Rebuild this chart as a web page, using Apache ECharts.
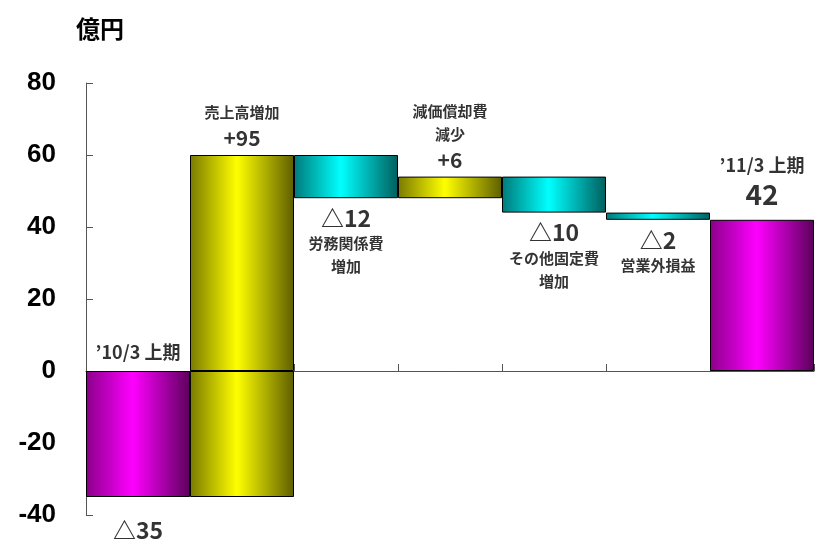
<!DOCTYPE html>
<html><head><meta charset="utf-8">
<script src="https://cdn.jsdelivr.net/npm/echarts@6/dist/echarts.min.js"></script>
<style>html,body{margin:0;padding:0;background:#fff}#c{width:821px;height:541px}</style>
</head><body><div id="c"></div>
<script>
// ---- data ----
const categories = ['’10/3 上期', '売上高増加', '労務関係費増加', '減価償却費減少', 'その他固定費増加', '営業外損益', '’11/3 上期'];
const startValues = [0, -35, 60, 48, 54, 44, 0];
const endValues = [-35, 60, 48, 54, 44, 42, 42];
const colorKinds = ['m', 'y', 'c', 'y', 'c', 'c', 'm'];
const topNames = ['’10/3 上期', '売上高増加', '', '減価償却費\n減少', '', '', '’11/3 上期'];
const topValues = ['', '+95', '', '+6', '', '', '42'];
const bottomValues = ['△35', '', '△12', '', '△10', '△2', ''];
const bottomNames = ['', '', '労務関係費\n増加', '', 'その他固定費\n増加', '営業外損益', ''];
const yTicks = [-40, -20, 0, 20, 40, 60, 80];
const unitLabel = '億円';

// ---- build ----
const CJK = "'Noto Sans CJK JP', sans-serif";
const grads = {
  m: ['#8a008a', '#ff00ff', '#5c005c'],
  y: ['#7a7a00', '#ffff00', '#5e5e00'],
  c: ['#007a7a', '#00ffff', '#005e5e']
};
function fill(k) {
  const g = grads[k];
  return new echarts.graphic.LinearGradient(0, 0, 1, 0, [
    {offset: 0, color: g[0]}, {offset: 0.45, color: g[1]}, {offset: 1, color: g[2]}
  ]);
}
const basePos = [], posPart = [], negPart = [];
categories.forEach((c, i) => {
  const lo = Math.min(startValues[i], endValues[i]);
  const hi = Math.max(startValues[i], endValues[i]);
  const st = {color: fill(colorKinds[i]), borderColor: '#000', borderWidth: 1};
  if (lo >= 0) {
    basePos.push(lo);
    posPart.push({value: hi - lo, itemStyle: st});
    negPart.push('-');
  } else {
    basePos.push(0);
    posPart.push(hi > 0 ? {value: hi, itemStyle: st} : '-');
    negPart.push({value: lo, itemStyle: st});
  }
});

const rich = {
  s: {fontFamily: CJK, fontWeight: 'bold', fontSize: 15, lineHeight: 23, color: '#000'},
  p: {fontFamily: CJK, fontWeight: 'bold', fontSize: 18, lineHeight: 24, color: '#000'},
  n: {fontFamily: CJK, fontWeight: 'bold', fontSize: 21, lineHeight: 28, color: '#000'},
  d: {fontFamily: CJK, fontWeight: 'bold', fontSize: 23, lineHeight: 28, color: '#000'},
  b: {fontFamily: CJK, fontWeight: 'bold', fontSize: 28, lineHeight: 36, color: '#000'}
};
const last = categories.length - 1;
const topPts = [], botPts = [];
categories.forEach((c, i) => {
  const lo = Math.min(startValues[i], endValues[i]);
  const hi = Math.max(startValues[i], endValues[i]);
  const period = (i === 0 || i === last);
  let parts = [];
  if (topNames[i]) parts = parts.concat(topNames[i].split('\n').map(t => '{' + (period ? 'p' : 's') + '|' + t + '}'));
  if (topValues[i]) parts.push('{' + (period ? 'b' : 'n') + '|' + topValues[i] + '}');
  if (parts.length) topPts.push({value: [i, hi], label: {formatter: parts.join('\n'), distance: period ? 7 : 3}});
  let bp = [];
  if (bottomValues[i]) bp.push('{d|' + bottomValues[i] + '}');
  if (bottomNames[i]) bp = bp.concat(bottomNames[i].split('\n').map(t => '{s|' + t + '}'));
  if (bp.length) botPts.push({value: [i, lo], label: {formatter: bp.join('\n'), distance: i === 0 ? 19 : 6}});
});

const chart = echarts.init(document.getElementById('c'));
chart.setOption({
  animation: false,
  title: {text: unitLabel, left: 71, top: 12, textStyle: {fontFamily: CJK, fontWeight: 'bold', fontSize: 24, color: '#000'}},
  grid: {left: 86, right: 7, top: 83, bottom: 26, containLabel: false},
  xAxis: {
    type: 'category', data: categories,
    axisLine: {onZero: true, lineStyle: {color: '#555', width: 1}},
    axisTick: {show: true, inside: true, length: 7, interval: 0, lineStyle: {color: '#555'}},
    axisLabel: {show: false, interval: 0}, splitLine: {show: false}
  },
  yAxis: {
    type: 'value', min: yTicks[0], max: yTicks[yTicks.length - 1], interval: yTicks[1] - yTicks[0],
    axisLine: {show: true, lineStyle: {color: '#555'}},
    axisTick: {show: true, inside: true, length: 7, lineStyle: {color: '#555'}},
    splitLine: {show: false},
    axisLabel: {margin: 30, color: '#000', fontSize: 26, fontWeight: 'bold',
      fontFamily: "'Liberation Sans Narrow', 'Liberation Sans', sans-serif"}
  },
  series: [
    {type: 'bar', stack: 'w', data: basePos, barCategoryGap: 0, itemStyle: {color: 'transparent'}, silent: true},
    {type: 'bar', stack: 'w', data: posPart, barCategoryGap: 0},
    {type: 'bar', stack: 'w', data: negPart, barCategoryGap: 0},
    {type: 'scatter', symbolSize: 0, data: topPts, z: 5,
      label: {show: true, position: 'top', align: 'center', rich: rich}},
    {type: 'scatter', symbolSize: 0, data: botPts, z: 5,
      label: {show: true, position: 'bottom', align: 'center', rich: rich}}
  ]
});
</script></body></html>
